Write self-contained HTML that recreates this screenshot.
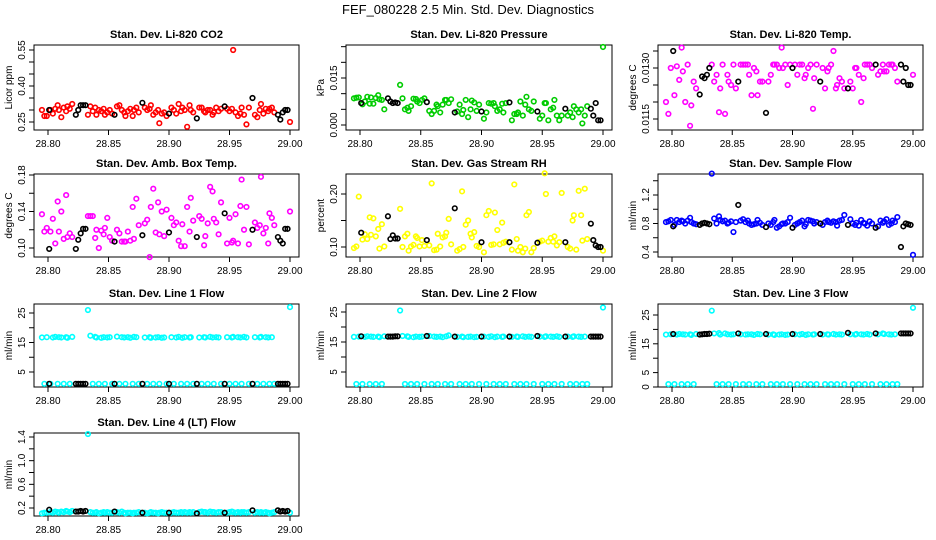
<!DOCTYPE html>
<html><head><meta charset="utf-8">
<style>
html,body{margin:0;padding:0;background:#fff;}
svg{display:block;font-family:"Liberation Sans",sans-serif;}
</style></head>
<body>
<svg id="chart" width="936" height="540" viewBox="0 0 936 540">
<rect x="0" y="0" width="936" height="540" fill="#fff"/>
<text x="468" y="14" text-anchor="middle" font-size="13">FEF_080228  2.5 Min. Std. Dev. Diagnostics</text>
</svg>
<script>
const times = [28.795,28.797,28.799,28.802,28.804,28.806,28.808,28.809,28.811,28.813,28.815,28.816,28.818,28.820,
28.833,28.835,28.837,28.839,28.840,28.842,28.844,28.846,28.847,28.849,28.851,28.853,
28.857,28.859,28.861,28.863,28.864,28.866,28.868,28.870,28.871,28.873,28.875,
28.880,28.882,28.884,28.885,28.887,28.889,28.891,28.892,28.894,28.896,28.898,
28.902,28.904,28.906,28.908,28.910,28.911,28.913,28.915,28.917,28.918,28.920,
28.925,28.927,28.929,28.930,28.932,28.934,28.936,28.937,28.939,28.941,28.943,
28.948,28.950,28.952,28.953,28.955,28.957,28.959,28.960,28.962,28.964,28.966,
28.971,28.973,28.975,28.976,28.978,28.980,28.982,28.983,28.985,28.987,
29.000];
const calTimes = [28.801,28.823,28.825,28.827,28.829,28.831,28.855,28.878,28.900,28.923,28.946,28.969,28.990,28.992,28.994,28.996,28.998];
const xTicks = [28.80,28.85,28.90,28.95,29.00];
const xTickLabels = ["28.80","28.85","28.90","28.95","29.00"];

const co2 = [.30,.275,.275,.30,.285,.305,.32,.30,.27,.31,.295,.315,.305,.325,
.28,.315,.295,.31,.28,.30,.295,.305,.28,.29,.30,.285,
.315,.32,.30,.29,.275,.295,.305,.275,.30,.31,.29,
.31,.30,.305,.32,.28,.29,.30,.245,.285,.29,.275,
.31,.30,.285,.325,.295,.31,.30,.23,.32,.30,.29,
.31,.31,.295,.29,.30,.30,.28,.29,.31,.295,.305,
.305,.295,.305,.55,.29,.275,.285,.31,.28,.24,.31,
.28,.27,.30,.325,.285,.305,.295,.305,.31,.29,.25];
const co2Cal = [.30,.28,.30,.32,.32,.32,.28,.33,.285,.265,.315,.35,.28,.26,.29,.30,.30];

const press = [.0085,.0087,.0088,.0066,.0075,.009,.0068,.0088,.0068,.0086,.0095,.0082,.0080,.0050,
.0128,.0085,.0050,.0055,.0045,.0060,.0084,.0083,.0075,.0070,.0080,.0085,
.0045,.0035,.0045,.0065,.0060,.0040,.0065,.0080,.0080,.0070,.0082,
.0043,.0065,.0035,.0048,.0080,.0025,.0050,.0078,.0072,.0045,.0065,
.0020,.0040,.0070,.0068,.0070,.0060,.0045,.0050,.0068,.0040,.0070,
.0015,.0035,.0035,.0040,.0075,.0030,.0065,.0090,.0050,.0045,.0075,
.0020,.0030,.0070,.0070,.0015,.0050,.0055,.0080,.0030,.0015,.0030,
.0030,.0040,.0025,.0060,.0050,.0040,.0050,.0005,.0030,.0060,.0249];
const pressCal = [.0070,.0085,.0075,.0070,.0072,.0070,.0073,.0040,.0043,.0072,.0043,.0052,.0052,.0030,.0070,.0015,.0015];

const licorTemp = [.0120,.01165,.0130,.0122,.01305,.01265,.0136,.0129,.0120,.0131,.0113,.0119,.0126,.0124,
.0131,.0126,.0128,.0117,.0124,.0131,.01165,.0128,.0126,.0125,.0131,.0124,
.0131,.0131,.0131,.0131,.0128,.0122,.0130,.0129,.0122,.0126,.0126,
.0126,.0128,.0131,.0131,.0131,.0130,.0136,.0130,.0131,.0125,.0131,
.0131,.0128,.0131,.0131,.0127,.0128,.0130,.0131,.0118,.0127,.0131,
.0130,.0124,.0129,.0130,.0131,.0135,.0124,.0125,.0127,.0126,.0124,
.0126,.0124,.0130,.0130,.0128,.0120,.0127,.0131,.0131,.0131,.0130,
.0128,.0129,.0131,.0129,.0129,.0131,.0131,.0131,.0130,.0126,.0128];
const licorTempCal = [.0135,.01222,.01275,.0127,.0128,.0130,.0126,.01168,.0130,.0126,.0124,.0131,.0131,.0126,.0130,.0125,.0125];

const ambTemp = [.137,.118,.122,.118,.132,.105,.151,.118,.140,.110,.158,.112,.116,.112,
.135,.135,.135,.111,.120,.100,.119,.115,.122,.133,.112,.108,
.120,.116,.107,.107,.107,.118,.108,.145,.110,.154,.125,
.127,.131,.090,.145,.165,.117,.150,.115,.140,.113,.142,
.133,.125,.128,.108,.102,.126,.102,.145,.118,.155,.130,
.135,.132,.103,.113,.127,.167,.162,.132,.128,.115,.150,
.105,.133,.106,.108,.137,.105,.146,.175,.120,.145,.104,
.128,.122,.125,.178,.116,.122,.105,.138,.133,.125,.140];
const ambTempCal = [.099,.099,.109,.116,.121,.121,.107,.114,.117,.112,.138,.120,.112,.108,.105,.121,.121];

const rh = [.098,.101,.195,.114,.124,.115,.156,.123,.154,.120,.134,.097,.143,.101,
.172,.100,.120,.125,.093,.101,.104,.120,.117,.101,.113,.102,
.103,.220,.094,.095,.125,.101,.118,.120,.127,.153,.105,
.093,.096,.205,.100,.142,.150,.125,.118,.128,.102,.100,
.090,.160,.168,.104,.105,.165,.132,.105,.146,.108,.110,
.095,.218,.115,.093,.100,.090,.097,.160,.166,.090,.098,
.110,.112,.239,.200,.110,.117,.110,.120,.103,.109,.202,
.100,.097,.150,.160,.095,.206,.160,.112,.210,.115,.093];
const rhCal = [.127,.158,.115,.122,.116,.116,.113,.173,.109,.109,.108,.109,.144,.113,.103,.100,.100];

const sampleFlow = [.82,.83,.85,.78,.85,.82,.84,.83,.80,.84,.88,.82,.80,.79,
1.50,.87,.80,.90,.85,.83,.84,.80,.81,.83,.68,.82,
.84,.86,.82,.84,.80,.78,.79,.80,.85,.81,.78,
.80,.78,.82,.85,.74,.76,.79,.80,.80,.82,.88,
.78,.80,.82,.84,.76,.79,.85,.84,.83,.80,.82,
.78,.82,.84,.82,.81,.83,.82,.77,.84,.85,.92,
.86,.80,.78,.81,.77,.85,.81,.80,.77,.83,.80,
.76,.84,.81,.83,.86,.78,.80,.84,.82,.89,.36];
const sampleFlowCal = [.76,.78,.80,.81,.80,.79,1.06,.75,.74,.80,.78,.74,.47,.76,.80,.79,.78];

const line1 = [16.7,1,16.8,1,16.7,16.9,1,16.8,16.7,1,16.8,16.6,1,16.9,
26,17.3,1,16.9,16.7,1,16.6,16.8,1,16.7,16.8,1,
17,1,16.8,16.7,1,16.8,16.6,1,16.9,16.8,1,
16.7,1,16.8,16.6,1,16.7,16.8,1,16.6,16.7,1,
16.8,1,16.7,16.9,1,16.6,16.8,1,16.7,16.8,1,
16.7,1,16.8,16.7,1,16.9,16.7,1,16.8,16.7,1,
16.8,1,16.7,16.9,1,16.8,16.7,1,16.9,16.7,1,
16.8,1,16.7,16.9,1,16.8,16.7,1,16.8,1,27];
const line1Cal = [1,1,1,1,1,1,1,1,1,1,1,1,1,1,1,1,1];

const line2 = [16.7,1,16.8,1,16.7,16.9,1,16.8,16.7,1,16.8,16.6,1,16.9,
25.5,17.0,1,16.9,16.7,1,16.6,16.8,1,16.7,16.8,1,
17,1,16.8,16.7,1,16.8,16.6,1,16.9,17.2,1,
16.7,1,16.8,16.6,1,16.7,16.8,1,16.6,16.7,1,
16.8,1,16.7,16.9,1,16.6,16.8,1,16.7,16.8,1,
16.7,1,16.8,16.7,1,16.9,16.7,1,16.8,16.7,1,
16.8,1,16.7,16.9,1,16.8,16.7,1,16.9,16.7,1,
16.8,1,16.7,16.9,1,16.8,16.7,1,16.8,1,26.5];
const line2Cal = [16.9,16.8,16.8,16.8,16.9,16.9,17.0,16.8,16.8,16.8,17.0,16.8,16.8,16.8,16.8,16.8,16.8];

const line3 = [18.2,1,18.3,1,18.2,18.4,1,18.3,18.2,1,18.3,18.1,1,18.4,
26.5,18.6,1,18.7,18.2,1,18.6,18.3,1,18.2,18.3,1,
18.3,1,18.2,18.3,1,18.3,18.1,1,18.4,18.3,1,
18.2,1,18.3,18.1,1,18.2,18.3,1,18.1,18.2,1,
18.3,1,18.2,18.4,1,18.1,18.3,1,18.2,18.3,1,
18.2,1,18.3,18.2,1,18.4,18.2,1,18.3,18.2,1,
18.3,1,18.2,18.4,1,18.3,18.2,1,18.4,18.2,1,
18.3,1,18.6,18.4,1,18.3,18.2,1,18.3,1,27.5];
const line3Cal = [18.4,18.2,18.3,18.4,18.4,18.5,18.6,18.4,18.4,18.4,18.8,18.6,18.6,18.6,18.6,18.6,18.6];

const line4 = [.11,.12,.12,.13,.12,.14,.13,.12,.14,.13,.15,.14,.13,.15,
1.45,.13,.12,.12,.13,.11,.12,.13,.12,.13,.12,.12,
.13,.12,.14,.12,.11,.12,.12,.11,.12,.12,.13,
.12,.11,.12,.13,.12,.12,.11,.12,.13,.12,.12,
.12,.13,.12,.12,.13,.12,.13,.12,.13,.12,.13,
.13,.14,.13,.13,.12,.14,.13,.13,.12,.13,.13,
.12,.13,.14,.13,.12,.13,.12,.13,.13,.12,.13,
.12,.13,.12,.13,.12,.13,.12,.11,.12,.13,.12];
const line4Cal = [.17,.14,.14,.15,.14,.15,.14,.12,.12,.11,.12,.16,.16,.14,.15,.14,.15];

const NS = "http://www.w3.org/2000/svg";
const svg = document.getElementById("chart");
function mk(tag, attrs, parent) {
  const e = document.createElementNS(NS, tag);
  for (const k in attrs) e.setAttribute(k, attrs[k]);
  (parent || svg).appendChild(e);
  return e;
}
const cols = [{l:34,r:299,x0:48,x1:290},{l:346,r:612,x0:360,x1:603},{l:658,r:923,x0:672,x1:913}];
const rows = [{t:45,b:130},{t:174,b:257},{t:304,b:387},{t:433,b:516}];

const panels = [
 {key:"co2-panel",title:"Stan. Dev. Li-820 CO2",ylab:"Licor ppm",col:0,row:0,color:"#ff0000",vals:co2,cal:co2Cal,v1:.55,p1:50,v2:.25,p2:122,ticks:[.25,.30,.35,.40,.45,.50,.55],tl:["0.25","","","0.40","","","0.55"]},
 {key:"pressure-panel",title:"Stan. Dev. Li-820 Pressure",ylab:"kPa",col:1,row:0,color:"#00cc00",vals:press,cal:pressCal,v1:.015,p1:78,v2:0,p2:125,ticks:[0,.005,.010,.015,.020,.025],tl:["0.000","","","0.015","",""]},
 {key:"licor-temp-panel",title:"Stan. Dev. Li-820 Temp.",ylab:"degrees C",col:2,row:0,color:"#ff00ff",vals:licorTemp,cal:licorTempCal,v1:.0130,p1:68,v2:.0115,p2:119,ticks:[.0115,.0120,.0125,.0130,.0135],tl:["0.0115","","","0.0130",""]},
 {key:"amb-box-temp-panel",title:"Stan. Dev. Amb. Box Temp.",ylab:"degrees C",col:0,row:1,color:"#ff00ff",vals:ambTemp,cal:ambTempCal,v1:.18,p1:175,v2:.10,p2:248,ticks:[.10,.12,.14,.16,.18],tl:["0.10","","0.14","","0.18"]},
 {key:"gas-rh-panel",title:"Stan. Dev. Gas Stream RH",ylab:"percent",col:1,row:1,color:"#ffff00",vals:rh,cal:rhCal,v1:.20,p1:194,v2:.10,p2:247,ticks:[.10,.15,.20],tl:["0.10","","0.20"]},
 {key:"sample-flow-panel",title:"Stan. Dev. Sample Flow",ylab:"ml/min",col:2,row:1,color:"#0000ff",vals:sampleFlow,cal:sampleFlowCal,v1:1.2,p1:195,v2:.4,p2:252,ticks:[.4,.6,.8,1.0,1.2,1.4],tl:["0.4","","0.8","","1.2",""]},
 {key:"line1-flow-panel",title:"Stan. Dev. Line 1 Flow",ylab:"ml/min",col:0,row:2,color:"#00ffff",vals:line1,cal:line1Cal,v1:25,p1:313,v2:5,p2:372,ticks:[5,10,15,20,25],tl:["5","","15","","25"]},
 {key:"line2-flow-panel",title:"Stan. Dev. Line 2 Flow",ylab:"ml/min",col:1,row:2,color:"#00ffff",vals:line2,cal:line2Cal,v1:25,p1:312,v2:5,p2:372,ticks:[5,10,15,20,25],tl:["5","","15","","25"]},
 {key:"line3-flow-panel",title:"Stan. Dev. Line 3 Flow",ylab:"ml/min",col:2,row:2,color:"#00ffff",vals:line3,cal:line3Cal,v1:25,p1:315,v2:0,p2:387,ticks:[0,5,10,15,20,25],tl:["0","5","","15","","25"]},
 {key:"line4-flow-panel",title:"Stan. Dev. Line 4 (LT) Flow",ylab:"ml/min",col:0,row:3,color:"#00ffff",vals:line4,cal:line4Cal,v1:1.4,p1:437,v2:.2,p2:508,ticks:[.2,.4,.6,.8,1.0,1.2,1.4],tl:["0.2","","0.6","","1.0","","1.4"]}
];

panels.forEach(p => {
  const c = cols[p.col], r = rows[p.row];
  const g = mk("g", {});
  
  
  const xs = t => c.x0 + (t - 28.80) * (c.x1 - c.x0) / 0.2;
  const ys = v => p.p1 + (v - p.v1) * (p.p2 - p.p1) / (p.v2 - p.v1);

  const title = mk("text", {x:(c.l+c.r)/2, y:r.t-7, "text-anchor":"middle", "font-size":"11", "font-weight":"bold"}, g);
  title.textContent = p.title;
  
  

  const box = mk("rect", {x:c.l, y:r.t, width:c.r-c.l, height:r.b-r.t, fill:"none", stroke:"#000", "stroke-width":"1"}, g);
  
  

  const xa = mk("g", {}, g);
  
  
  xTicks.forEach((t,i) => {
    mk("line", {x1:xs(t), x2:xs(t), y1:r.b, y2:r.b+5, stroke:"#000"}, xa);
    const tl = mk("text", {x:xs(t), y:r.b+17, "text-anchor":"middle", "font-size":"10"}, xa);
    tl.textContent = xTickLabels[i];
    
    
  });

  const ya = mk("g", {}, g);
  
  
  const ax = c.l;
  p.ticks.forEach((t,i) => {
    mk("line", {x1:ax-5, x2:ax, y1:ys(t), y2:ys(t), stroke:"#000"}, ya);
    if (p.tl[i]) {
      const tx = ax - 9, ty = ys(t);
      const tl = mk("text", {x:tx, y:ty, "text-anchor":"middle", "font-size":"10", transform:`rotate(-90 ${tx} ${ty})`}, ya);
      tl.textContent = p.tl[i];
      
      
    }
  });
  const lx = c.l - 22, ly = (r.t + r.b) / 2;
  const yl = mk("text", {x:lx, y:ly, "text-anchor":"middle", "font-size":"10", transform:`rotate(-90 ${lx} ${ly})`}, g);
  yl.textContent = p.ylab;
  
  

  const pts = mk("g", {fill:"none", stroke:p.color, "stroke-width":"1.6"}, g);
  
  
  times.forEach((t,i) => {
    const pt = mk("circle", {cx:xs(t), cy:ys(p.vals[i]), r:"2.3"}, pts);
    
    
  });
  const cpts = mk("g", {fill:"none", stroke:"#000", "stroke-width":"1.6"}, g);
  
  
  calTimes.forEach((t,i) => {
    const pt = mk("circle", {cx:xs(t), cy:ys(p.cal[i]), r:"2.3"}, cpts);
    
    
  });
});
</script>
</body></html>
